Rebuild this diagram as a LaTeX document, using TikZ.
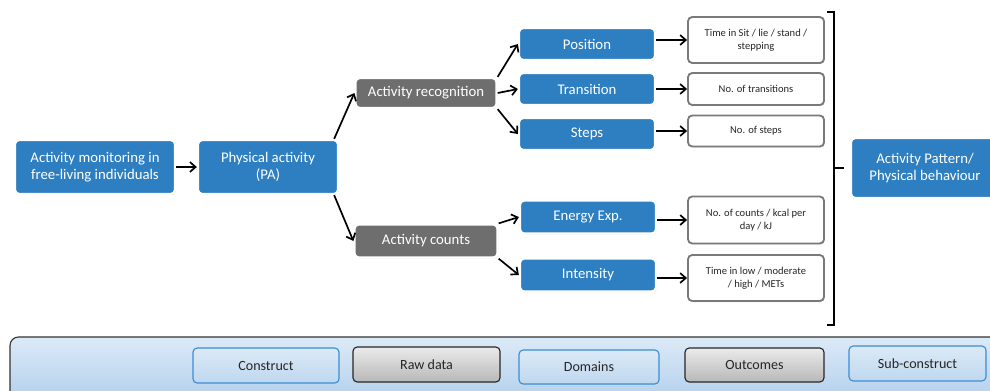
\documentclass[tikz,border=0pt]{standalone}
\usepackage{fontspec}
\setmainfont{Carlito}
\usetikzlibrary{arrows.meta,shadows,calc}
\definecolor{boxblue}{HTML}{2E7FC1}
\definecolor{boxgray}{HTML}{6E6E6E}
\definecolor{outline}{HTML}{7A7A7A}
\definecolor{bandtop}{HTML}{DCEAF7}
\definecolor{bandbot}{HTML}{B3D0EC}
\definecolor{legblue}{HTML}{3C8DD3}
\tikzset{
  softshadow/.style={drop shadow={shadow xshift=0.5pt,shadow yshift=-0.7pt,opacity=0.35,fill=black!55}},
  solidbox/.style={rounded corners=3pt,draw=white,line width=1.6pt,softshadow,
     text=white,font=\fontsize{10.5}{12.5}\selectfont,align=center,inner sep=0pt},
  bluebox/.style={solidbox,fill=boxblue},
  graybox/.style={solidbox,fill=boxgray},
  outbox/.style={rounded corners=3pt,draw=outline,line width=1.3pt,fill=white,softshadow,
     text=black!85,font=\fontsize{7.5}{9}\selectfont,align=center,inner sep=0pt,
     minimum width=3.4cm},
  legbase/.style={rounded corners=3pt,line width=0.8pt,text=black!85,
     font=\fontsize{10}{12}\selectfont,inner sep=0pt},
  legblue/.style={legbase,draw=legblue,top color=bandtop,bottom color=bandbot!85},
  leggray/.style={legbase,draw=black!85,top color=black!8,bottom color=black!28},
  arr/.style={-{Straight Barb[length=4pt,width=7pt]},line width=1.2pt,black},
}
\begin{document}
\begin{tikzpicture}[x=0.025cm,y=-0.025cm]
\useasboundingbox (0,0) rectangle (990,390);

% legend band along the bottom
\draw[black!80,line width=0.8pt,top color=bandtop,bottom color=bandbot,rounded corners=6pt]
  (10,400) -- (10,337) -- (1000,337) -- (1000,400);

% constructs and paths
\node[bluebox,minimum width=4cm,minimum height=1.35cm] (mon) at (95,167)
  {Activity monitoring in\\free-living individuals};
\node[bluebox,minimum width=3.5cm,minimum height=1.35cm] (pa) at (268,167)
  {Physical activity\\(PA)};
\node[graybox,minimum width=3.525cm,minimum height=0.75cm] (rec) at (426,93)
  {Activity recognition};
\node[graybox,minimum width=3.575cm,minimum height=0.825cm] (cnt) at (426,241)
  {Activity counts};

\node[bluebox,minimum width=3.4cm,minimum height=0.8cm] (pos) at (587,44) {Position};
\node[bluebox,minimum width=3.4cm,minimum height=0.8cm] (tra) at (587,89) {Transition};
\node[bluebox,minimum width=3.4cm,minimum height=0.8cm] (stp) at (587,134) {Steps};
\node[bluebox,minimum width=3.4cm,minimum height=0.825cm] (ene) at (588,217) {Energy Exp.};
\node[bluebox,minimum width=3.4cm,minimum height=0.825cm] (int) at (588,275) {Intensity};

\node[outbox,minimum height=1.15cm] (o1) at (756,40) {Time in Sit / lie / stand /\\stepping};
\node[outbox,minimum height=0.8cm] (o2) at (756,89) {No. of transitions};
\node[outbox,minimum height=0.775cm] (o3) at (756,131) {No. of steps};
\node[outbox,minimum height=1.175cm] (o4) at (756,220) {No. of counts / kcal per\\day / kJ};
\node[outbox,minimum height=1.15cm] (o5) at (756,278) {Time in low / moderate\\/ high / METs};

\node[bluebox,minimum width=3.7cm,minimum height=1.5cm] (pat) at (925,168)
  {Activity Pattern/\\Physical behaviour};

% connectors
\draw[arr] (mon.east) -- (pa.west);
\draw[arr] ($(pa.north east)+(-5,0)$) -- (rec.west);
\draw[arr] ($(pa.south east)+(-5,0)$) -- (cnt.west);
\draw[arr] (rec.north east) -- (pos.west);
\draw[arr] (rec.east) -- (tra.west);
\draw[arr] (rec.south east) -- (stp.west);
\draw[arr] (cnt.north east) -- (ene.west);
\draw[arr] (cnt.south east) -- (int.west);
\draw[arr] (pos.east |- o1.west) -- (o1.west);
\draw[arr] (tra.east |- o2.west) -- (o2.west);
\draw[arr] (stp.east |- o3.west) -- (o3.west);
\draw[arr] (ene.east |- o4.west) -- (o4.west);
\draw[arr] (int.east |- o5.west) -- (o5.west);

% bracket gathering the outcomes
\draw[line width=1.3pt] (827,12) -- (834,12) -- (834,325) -- (827,325);
\draw[line width=1.3pt] (834,168) -- (844,168);

% legend entries
\node[legblue,minimum width=3.65cm,minimum height=0.875cm] (lc) at (266,365.5) {Construct};
\node[leggray,minimum width=3.675cm,minimum height=0.875cm] (lr) at (426.5,364.5) {Raw data};
\node[legblue,minimum width=3.5cm,minimum height=0.85cm] (ld) at (589,367) {Domains};
\node[leggray,minimum width=3.475cm,minimum height=0.85cm] (lo) at (754.5,365) {Outcomes};
\node[legblue,minimum width=3.425cm,minimum height=0.875cm] (ls) at (917.5,363.5) {Sub-construct};
\end{tikzpicture}
\end{document}
